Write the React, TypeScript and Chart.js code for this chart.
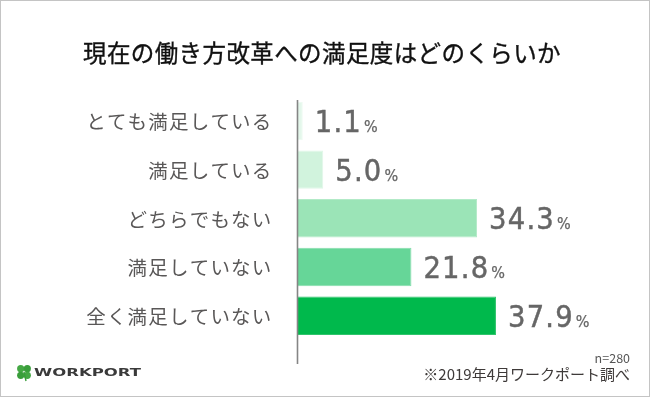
import React, { useEffect, useRef } from "react";
import { Chart, registerables } from "chart.js";

Chart.register(...registerables);

const titleText = "現在の働き方改革への満足度はどのくらいか";
const categories = [
  "とても満足している",
  "満足している",
  "どちらでもない",
  "満足していない",
  "全く満足していない",
];
const values = [1.1, 5.0, 34.3, 21.8, 37.9];
const barColors = ["#e4f7eb", "#d1f3dd", "#9be4b7", "#66d698", "#00b94c"];
const barEdgeColors = ["#eefaf2", "#e0f7e8", "#b2eac7", "#84ddab", "#30c46c"];
const sampleNote = "n=280";
const sourceNote = "※2019年4月ワークポート調べ";
const brandName = "WORKPORT";
const unit = "%";

const CJK = '"Noto Sans CJK JP", "Noto Sans", sans-serif';
const NUM = '"DejaVu Sans Condensed", "Liberation Sans Narrow", "DejaVu Sans", sans-serif';

const decorPlugin = {
  id: "decor",
  beforeDraw(chart: any) {
    const ctx = chart.ctx;
    ctx.save();
    ctx.fillStyle = "#ffffff";
    ctx.fillRect(0, 0, chart.width, chart.height);
    ctx.restore();
  },
  afterDatasetsDraw(chart: any) {
    const ctx = chart.ctx;
    const xScale = chart.scales.x;
    const yScale = chart.scales.y;
    ctx.save();

    // frame
    ctx.strokeStyle = "#c4c4c4";
    ctx.lineWidth = 1;
    ctx.strokeRect(0.5, 0.5, chart.width - 1, chart.height - 2);

    // title
    ctx.fillStyle = "#111111";
    ctx.font = `400 23.5px ${CJK}`;
    ctx.textAlign = "center";
    ctx.textBaseline = "middle";
    (ctx as any).letterSpacing = "0.4px";
    ctx.fillText(titleText, 322, 53);
    ctx.strokeStyle = "#111111";
    ctx.lineWidth = 0.35;
    ctx.strokeText(titleText, 322, 53);
    (ctx as any).letterSpacing = "0px";

    // axis line
    const x0 = Math.round(xScale.getPixelForValue(0)) + 0.5;
    ctx.strokeStyle = "#858585";
    ctx.lineWidth = 1.6;
    ctx.beginPath();
    ctx.moveTo(x0, 100);
    ctx.lineTo(x0, 364);
    ctx.stroke();

    // category labels
    ctx.fillStyle = "#595757";
    ctx.font = `400 19.5px ${CJK}`;
    ctx.textAlign = "right";
    ctx.textBaseline = "middle";
    (ctx as any).letterSpacing = "1.2px";
    categories.forEach((c, i) => {
      ctx.fillText(c, x0 - 25, yScale.getPixelForValue(i) + 1);
    });
    (ctx as any).letterSpacing = "0px";

    // value labels
    const meta = chart.getDatasetMeta(0);
    meta.data.forEach((bar: any, i: number) => {
      const txt = values[i].toFixed(1);
      const baseY = bar.y + 11;
      const sx = bar.x + 12;
      ctx.fillStyle = "#666666";
      ctx.strokeStyle = "#666666";
      ctx.textAlign = "left";
      ctx.textBaseline = "alphabetic";
      ctx.font = `400 30.5px ${NUM}`;
      (ctx as any).letterSpacing = "1.2px";
      ctx.fillText(txt, sx, baseY);
      ctx.lineWidth = 0.45;
      ctx.strokeText(txt, sx, baseY);
      const w = ctx.measureText(txt).width;
      (ctx as any).letterSpacing = "0px";
      ctx.font = `400 16px ${NUM}`;
      ctx.fillText(unit, sx + w + 2, baseY);
      ctx.lineWidth = 0.25;
      ctx.strokeText(unit, sx + w + 2, baseY);
    });

    // footer notes
    ctx.fillStyle = "#555555";
    ctx.textAlign = "right";
    ctx.textBaseline = "middle";
    ctx.font = `400 12.5px ${CJK}`;
    ctx.fillText(sampleNote, 630, 358);
    ctx.fillStyle = "#3e3a39";
    ctx.font = `400 15px ${CJK}`;
    ctx.fillText(sourceNote, 630, 374);

    // logo clover
    const cx = 24, cy = 372;
    const leaves = [
      [-3.3, -3.3, "#45a844"],
      [3.3, -3.3, "#3a9e3b"],
      [-3.3, 3.3, "#3a9e3b"],
      [3.3, 3.3, "#45a844"],
    ];
    leaves.forEach(([dx, dy, col]: any) => {
      ctx.fillStyle = col;
      ctx.beginPath();
      ctx.arc(cx + dx, cy + dy, 3.6, 0, Math.PI * 2);
      ctx.fill();
    });
    ctx.strokeStyle = "#3a9e3b";
    ctx.lineWidth = 1.4;
    ctx.beginPath();
    ctx.moveTo(cx, cy);
    ctx.lineTo(cx + 2, cy + 9);
    ctx.stroke();

    // logo text
    ctx.fillStyle = "#3a3a3a";
    ctx.font = `700 11px "DejaVu Sans", sans-serif`;
    ctx.textAlign = "left";
    ctx.textBaseline = "middle";
    const bw = ctx.measureText(brandName).width;
    const target = 107;
    ctx.translate(34, 373.5);
    ctx.scale(target / bw, 1);
    ctx.fillText(brandName, 0, 0);

    ctx.restore();
  },
};

export default function App() {
  const ref = useRef<HTMLCanvasElement | null>(null);

  useEffect(() => {
    document.body.style.margin = "0";
    const canvas = ref.current;
    if (!canvas) return;
    const chart = new Chart(canvas, {
      type: "bar",
      data: {
        labels: categories,
        datasets: [
          {
            data: values,
            backgroundColor: barColors,
            borderColor: barEdgeColors,
            borderWidth: 1,
            borderSkipped: "left",
            categoryPercentage: 1,
            barPercentage: 0.79,
          },
        ],
      },
      options: {
        indexAxis: "y",
        responsive: false,
        animation: false,
        devicePixelRatio: 1,
        layout: { padding: { left: 297, right: 38, top: 96.6, bottom: 58 } },
        plugins: {
          legend: { display: false },
          tooltip: { enabled: false },
          title: { display: false },
        },
        scales: {
          x: { display: false, min: 0, max: 60 },
          y: { display: false },
        },
      },
      plugins: [decorPlugin],
    });
    return () => chart.destroy();
  }, []);

  return (
    <div style={{ width: 650, height: 398 }}>
      <canvas ref={ref} width={650} height={398} style={{ display: "block", width: 650, height: 398 }} />
    </div>
  );
}
